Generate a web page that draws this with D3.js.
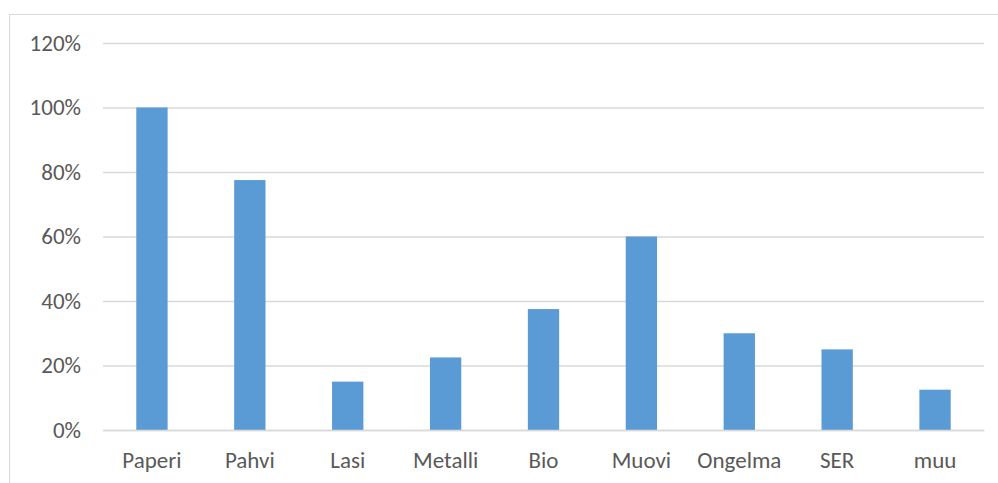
<!DOCTYPE html>
<html><head><meta charset="utf-8">
<script src="https://cdn.jsdelivr.net/npm/d3@7"></script>
<style>body{margin:0;background:#fff;}svg{display:block;}</style>
</head><body>
<svg id="c" width="998" height="483"></svg>
<script>
const categories = ["Paperi","Pahvi","Lasi","Metalli","Bio","Muovi","Ongelma","SER","muu"];
const values = [1.00, 0.775, 0.15, 0.225, 0.375, 0.60, 0.30, 0.25, 0.125];
const yTicks = [0, 0.2, 0.4, 0.6, 0.8, 1.0, 1.2];

const svg = d3.select("#c");
const font = "Calibri, Carlito, 'Open Sans', sans-serif";
// outer border
svg.append("rect").attr("x",9.5).attr("y",14.5).attr("width",1000).attr("height",500)
  .attr("fill","none").attr("stroke","#d9d9d9").attr("stroke-width",1);

const x = d3.scaleBand().domain(categories).range([103, 984]).paddingInner(0.68).paddingOuter(0.34);
const y = d3.scaleLinear().domain([0, 1.2]).range([430, 43]);

const yAxis = d3.axisLeft(y).tickValues(yTicks).tickFormat(d3.format(".0%")).tickSize(-(984-103)).tickPadding(22);
const gy = svg.append("g").attr("transform","translate(103,0)").call(yAxis);
gy.select(".domain").remove();
gy.selectAll(".tick line").attr("stroke","#d9d9d9").attr("stroke-width",1.3);
gy.selectAll(".tick text").attr("fill","#595959").style("font-family",font).style("font-size","23px");

svg.append("g").selectAll("rect").data(values).join("rect")
  .attr("x",(d,i)=>x(categories[i])).attr("width",x.bandwidth())
  .attr("y",d=>y(d)).attr("height",d=>y(0)-y(d)).attr("fill","#5b9bd5");

const xAxis = d3.axisBottom(x).tickSize(0).tickPadding(22);
const gx = svg.append("g").attr("transform","translate(0,430)").call(xAxis);
gx.select(".domain").attr("stroke","#d9d9d9").attr("stroke-width",1.3);
gx.selectAll(".tick text").attr("fill","#595959").style("font-family",font).style("font-size","23px");
</script>
</body></html>
